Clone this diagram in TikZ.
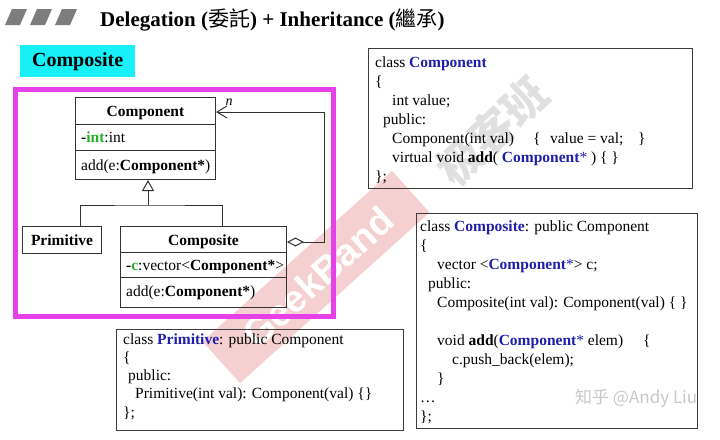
\documentclass[tikz,border=0pt]{standalone}
\usepackage{fontspec}
\setmainfont{Liberation Serif}
\newfontfamily\cjkfont{Noto Sans CJK TC}
\newfontfamily\cjkscfont{Noto Sans CJK SC}
\newfontfamily\marksans{Liberation Sans}
\usetikzlibrary{arrows.meta,calc}

\definecolor{cblue}{RGB}{30,30,170}
\definecolor{cgreen}{RGB}{40,175,40}
\definecolor{framemag}{RGB}{230,64,232}
\definecolor{tagcyan}{RGB}{24,240,248}
\definecolor{markgray}{RGB}{125,125,125}
\definecolor{linec}{RGB}{50,50,50}
\definecolor{boxc}{RGB}{60,60,60}
\definecolor{bandpink}{RGB}{244,208,208}
\definecolor{wmgray}{RGB}{224,224,224}
\definecolor{zhgray}{RGB}{200,200,200}

% blue bold class names, green bold member names
\newcommand\cbl[1]{\textbf{\color{cblue}#1}}
\newcommand\cgr[1]{\textbf{\color{cgreen}#1}}
% one line of source code: name, x, baseline y, text
\newcommand\srcline[4]{\node[codeline] (#1) at (#2,#3) {#4};}

\begin{document}
\begin{tikzpicture}[x=1pt,y=-1pt,
  txt/.style={inner sep=0pt, font=\fontsize{15.5}{19}\selectfont},
  codeline/.style={txt, anchor=base west},
  umlname/.style={inner sep=0pt, anchor=base, font=\fontsize{15.5}{19}\selectfont\bfseries},
  umlbox/.style={draw=linec, line width=1pt, inner sep=0pt, anchor=north west},
  codebox/.style={draw=boxc, line width=1.3pt, inner sep=0pt, anchor=north west},
  umlline/.style={draw=linec, line width=1pt},
]
\useasboundingbox (0,0) rectangle (720,439);

% ---- watermarks (background) ----
\node[fill=bandpink, rotate=42, minimum width=255pt, minimum height=56pt, inner sep=0pt] (band) at (316,277) {};
\node[rotate=42, text=white, inner sep=0pt, font=\marksans\bfseries\fontsize{38}{40}\selectfont] (bandtxt) at (318,277) {GeekBand};
\node[rotate=43, text=wmgray, inner sep=0pt, font=\cjkscfont\bfseries\fontsize{44}{46}\selectfont] (wmcn) at (492,131) {极客班};
\node[anchor=west, text=zhgray, inner sep=0pt, font=\cjkscfont\fontsize{17}{20}\selectfont] (zhihu) at (575,398) {知乎 @Andy Liu};

% ---- heading ----
\foreach \d in {0,25,50}
  \fill[markgray] (5+\d,25) -- (20+\d,25) -- (27+\d,9) -- (12+\d,9) -- cycle;
\node[anchor=base west, inner sep=0pt, font=\fontsize{21}{25}\selectfont\bfseries] (title) at (100,26)
  {Delegation ({\cjkfont\mdseries 委託}) + Inheritance ({\cjkfont\mdseries 繼承})};

\node[fill=tagcyan, minimum width=115pt, minimum height=32pt, anchor=north west, inner sep=0pt,
      font=\fontsize{20}{24}\selectfont\bfseries] (tag) at (20,45) {Composite};

\node[draw=framemag, line width=4.5pt, minimum width=318pt, minimum height=227pt,
      anchor=north west, inner sep=0pt] (frame) at (13,87) {};

% ---- class diagram ----
\node[umlbox, minimum width=140pt, minimum height=82pt] (comp) at (75,97) {};
\draw[umlline] ($(comp.north west)+(0,27)$) -- ($(comp.north east)+(0,27)$);
\draw[umlline] ($(comp.north west)+(0,53)$) -- ($(comp.north east)+(0,53)$);
\node[umlname] (compname) at ($(comp.north)+(0,19)$) {Component};
\node[codeline] (compattr) at ($(comp.north west)+(6,45)$) {\textbf{-}\cgr{int}:int};
\node[codeline] (compop) at ($(comp.north west)+(6,73)$) {add(e:\textbf{Component*})};

\node[umlbox, minimum width=79pt, minimum height=27pt] (prim) at (22,226) {};
\node[umlname] (primname) at ($(prim.north)+(0,19)$) {Primitive};

\node[umlbox, minimum width=166pt, minimum height=81pt] (compo) at (120,226) {};
\draw[umlline] ($(compo.north west)+(0,26)$) -- ($(compo.north east)+(0,26)$);
\draw[umlline] ($(compo.north west)+(0,51)$) -- ($(compo.north east)+(0,51)$);
\node[umlname] (componame) at ($(compo.north)+(0,19)$) {Composite};
\node[codeline] (compoattr) at ($(compo.north west)+(6,44)$) {\textbf{-}\cgr{c}:vector<\textbf{Component*}>};
\node[codeline] (compoop) at ($(compo.north west)+(6,70)$) {add(e:\textbf{Component*})};

% generalization
\coordinate (join) at (148,205);
\draw[umlline] ($(prim.north west)+(58,0)$) |- (join) -| ($(compo.north west)+(102,0)$);
\draw[umlline, -{Triangle[open, length=11pt, width=12pt]}] (join) -- (join |- comp.south);

% aggregation
\draw[umlline, {Diamond[open, length=17pt, width=9pt]}-{Straight Barb[length=10pt, width=12pt]}]
  ($(compo.north east)+(0,16)$) -- ++(37,0) |- ($(comp.north east)+(0,15)$);
\node[inner sep=0pt, font=\fontsize{14}{16}\selectfont\itshape] (nlab) at (229,102) {n};

% ---- source code ----
\node[codebox, minimum width=324pt, minimum height=140pt] (cb1) at (368,48) {};
\srcline{a1}{375}{67}{class \cbl{Component}}
\srcline{a2}{375}{86}{\{}
\srcline{a3}{392}{105}{int value;}
\srcline{a4}{383}{124}{public:}
\srcline{a5}{392}{143}{Component(int val)\hspace{19pt}\{\hspace{9.6pt}value = val;\hspace{14.7pt}\}}
\srcline{a6}{392}{162}{virtual void \textbf{add}( \cbl{Component}{\color{cblue}*} ) \{ \}}
\srcline{a7}{375}{181}{\};}

\node[codebox, minimum width=281pt, minimum height=215pt] (cb2) at (416,213) {};
\srcline{b1}{420}{231}{class \cbl{Composite}: public Component}
\srcline{b2}{420}{250}{\{}
\srcline{b3}{437}{269}{vector <\cbl{Component}{\color{cblue}*}> c;}
\srcline{b4}{428}{288}{public:}
\srcline{b5}{437}{307}{Composite(int val): Component(val) \{ \}}
\srcline{b6}{437}{345}{void \textbf{add}(\cbl{Component}{\color{cblue}*} elem)\hspace{20pt}\{}
\srcline{b7}{452}{364}{c.push\_back(elem);}
\srcline{b8}{437}{383}{\}}
\srcline{b9}{420}{402}{…}
\srcline{b10}{420}{421}{\};}

\node[codebox, minimum width=287pt, minimum height=101pt] (cb3) at (116,329) {};
\srcline{c1}{123}{344}{class \cbl{Primitive}: public Component}
\srcline{c2}{123}{362}{\{}
\srcline{c3}{128}{380}{public:}
\srcline{c4}{135}{398}{Primitive(int val): Component(val) \{\}}
\srcline{c5}{123}{417}{\};}
\end{tikzpicture}
\end{document}
